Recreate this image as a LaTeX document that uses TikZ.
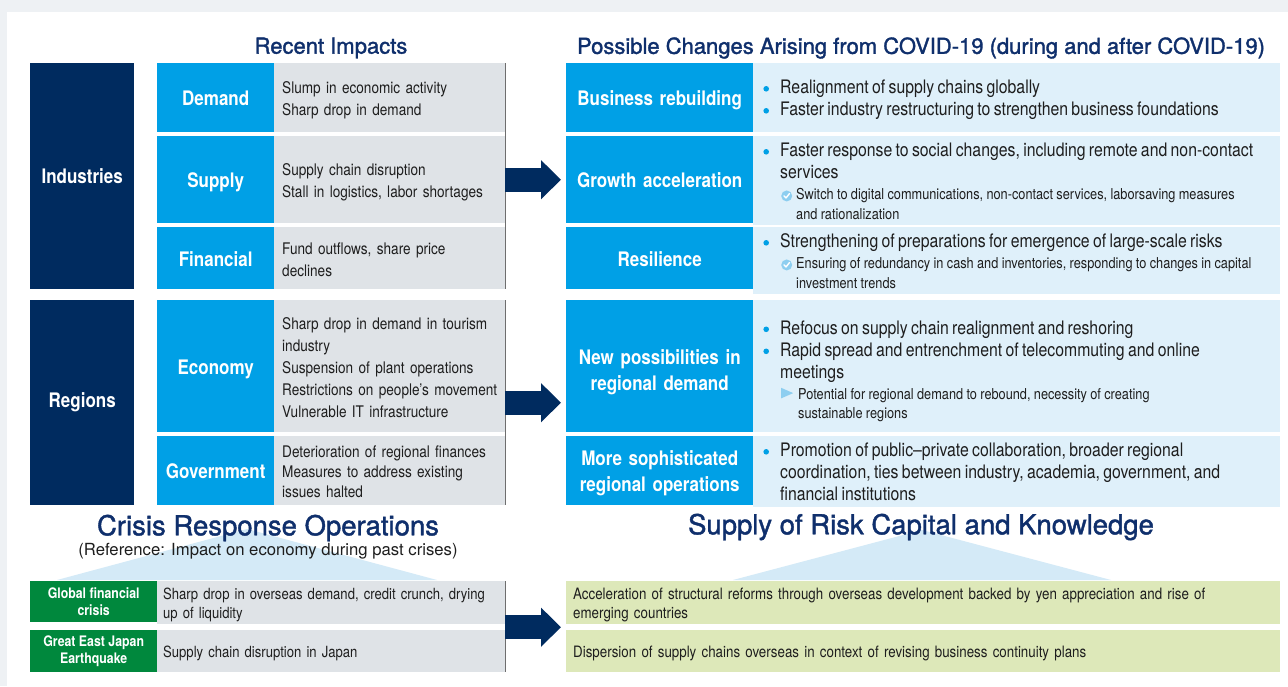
\documentclass[tikz,border=0pt]{standalone}
\usepackage{fontspec}
\setmainfont{TeX Gyre Heros}
\newfontfamily\cond{TeX Gyre Heros}[FakeStretch=0.85]
\newfontfamily\ttlf{TeX Gyre Heros}[FakeBold=1.5]
\usetikzlibrary{arrows.meta,calc}
\hyphenpenalty=10000

\definecolor{navy}{HTML}{002B5F}
\definecolor{ttlblue}{HTML}{0F2F6C}
\definecolor{cyanA}{HTML}{00A0E6}
\definecolor{greyA}{HTML}{DFE3E7}
\definecolor{lineGrey}{HTML}{6E6E6E}
\definecolor{lightBlue}{HTML}{DFF0FA}
\definecolor{chkBlue}{HTML}{8DCEF0}
\definecolor{triBlue}{HTML}{D4EAF7}
\definecolor{greenA}{HTML}{00883D}
\definecolor{lightGreen}{HTML}{DDE8B9}
\definecolor{bgGrey}{HTML}{EEF1F4}
\definecolor{ink}{HTML}{1E1E1E}

% bullets and marks
\newcommand\bul{\makebox[18pt][l]{\tikz[x=1pt,y=1pt,baseline=-4.8pt]{\path (0,0); \fill[cyanA] (4,0) circle (2.8pt);}}}
\newcommand\chkmark{\tikz[x=1pt,y=1pt,baseline=-3.9pt]{\fill[chkBlue] (5.5,0) circle (5.5pt);
  \draw[white,line width=1.4pt,line cap=round,line join=round] (2.8,0.2) -- (4.8,-2) -- (8.3,2.4);}}
\newcommand\trimark{\tikz[x=1pt,y=1pt,baseline=-1pt]{\fill[chkBlue] (0,0) -- (0,10.5) -- (12,5.25) -- cycle;}}
\newcommand\itm[1]{{\fontsize{18.6}{22}\selectfont\bul\strut#1\par}}
\newcommand\itmc[1]{{\fontsize{18.6}{22}\selectfont\hspace*{18pt}\strut#1\par}}
\newcommand\chkl[1]{{\fontsize{15}{19.5}\selectfont\hspace*{19pt}\makebox[15pt][l]{\chkmark}\strut#1\par}}
\newcommand\chkc[1]{{\fontsize{15}{19.5}\selectfont\hspace*{34pt}\strut#1\par}}
\newcommand\tril[1]{{\fontsize{15}{19.5}\selectfont\hspace*{19pt}\makebox[17pt][l]{\trimark}\strut#1\par}}
\newcommand\tric[1]{{\fontsize{15}{19.5}\selectfont\hspace*{36pt}\strut#1\par}}

\begin{document}
\begin{tikzpicture}[x=1pt,y=-1pt,
  grp/.style={anchor=north west, fill=navy, text=white, inner sep=0pt, minimum width=104pt,
    font=\cond\bfseries\fontsize{20}{24}\selectfont},
  hd/.style={anchor=north west, fill=cyanA, text=white, inner sep=0pt, minimum width=117pt,
    align=center, font=\cond\bfseries\fontsize{20}{26}\selectfont,
    execute at begin node={\rule{0pt}{\dimexpr.7\baselineskip+6pt\relax}},
    execute at end node=\strut},
  hdr/.style={hd, minimum width=187pt, text width=187pt},
  cell/.style={anchor=north west, fill=greyA, text=ink, text width=215pt, inner xsep=8pt,
    inner ysep=0pt, align=left, font=\cond\fontsize{16}{22}\selectfont,
    execute at begin node={\rule{0pt}{\dimexpr.7\baselineskip+5pt\relax}},
    execute at end node=\strut},
  chg/.style={anchor=north west, fill=lightBlue, text=ink, text width=509pt, inner xsep=9pt,
    inner ysep=0pt, align=left, font=\cond, execute at begin node={\rule{0pt}{20.4pt}}},
  gh/.style={anchor=north west, fill=greenA, text=white, inner sep=0pt, minimum width=127pt,
    align=center, font=\cond\bfseries\fontsize{14.5}{17}\selectfont},
  gc/.style={cell, text width=336pt, inner xsep=6pt, font=\cond\fontsize{15.4}{19}\selectfont},
  lg/.style={cell, fill=lightGreen, text width=700pt, inner xsep=7pt,
    font=\cond\fontsize{15.7}{19}\selectfont},
  ttl/.style={text=ttlblue, inner sep=0pt, font=\ttlf\fontsize{22}{26}\selectfont},
  bigttl/.style={text=ttlblue, inner sep=0pt, font=\ttlf\fontsize{27.5}{32}\selectfont},
  sep/.style={draw=lineGrey, line width=1.8pt},
  fat/.style={draw=navy, line width=24pt, -{Triangle[length=20pt,width=38pt]}, shorten >=5pt}]

\useasboundingbox (0,0) rectangle (1288,686);
\fill[bgGrey] (0,0) rectangle (1288,686);
\fill[white] (7,12) rectangle (1288,686);

% Titles
 \node[ttl] (ttlImp) at (331,48) {Recent Impacts};
 \node[ttl] (ttlChg) at (921,48) {Possible Changes Arising from COVID-19 (during and after COVID-19)};

% Industries
 \node[grp, minimum height=226pt] (ind) at (30,63) {Industries};
 \node[hd, minimum height=69pt] (dem) at (157,63) {Demand};
 \node[cell, minimum height=69pt] (demT) at (274,63) {Slump in economic activity\\Sharp drop in demand};
 \node[hd, minimum height=87pt] (sup) at (157,136) {Supply};
 \node[cell, minimum height=87pt] (supT) at (274,136) {Supply chain disruption\\Stall in logistics, labor shortages};
 \node[hd, minimum height=62pt] (fin) at (157,227) {Financial};
 \node[cell, minimum height=62pt] (finT) at (274,227) {Fund outflows, share price\\declines};

% Regions
 \node[grp, minimum height=205pt] (reg) at (30,300) {Regions};
 \node[hd, minimum height=132pt] (eco) at (157,300) {Economy};
 \node[cell, minimum height=132pt] (ecoT) at (274,300) {Sharp drop in demand in tourism\\industry\\Suspension of plant operations\\Restrictions on people’s movement\\Vulnerable IT infrastructure};
 \node[hd, minimum height=69pt] (gov) at (157,436) {Government};
 \node[cell, minimum height=69pt, font=\cond\fontsize{16}{20}\selectfont] (govT) at (274,436) {Deterioration of regional finances\\Measures to address existing\\issues halted};

 \draw[sep] (demT.north east) -- (finT.south east);
 \draw[sep] (ecoT.north east) -- (govT.south east);

% Possible changes
 \node[hdr, minimum height=69pt] (bus) at (566,63) {Business rebuilding};
 \node[chg, minimum height=69pt] (busT) at (753,63) {\itm{Realignment of supply chains globally}\itm{Faster industry restructuring to strengthen business foundations}};
 \node[hdr, minimum height=87pt] (grw) at (566,136) {Growth acceleration};
 \node[chg, minimum height=87pt] (grwT) at (753,136) {\itm{Faster response to social changes, including remote and non-contact}\itmc{services}\chkl{Switch to digital communications, non-contact services, laborsaving measures}\chkc{and rationalization}};
 \node[hdr, minimum height=62pt] (res) at (566,227) {Resilience};
 \node[chg, minimum height=62pt] (resT) at (753,227) {\itm{Strengthening of preparations for emergence of large-scale risks}\chkl{Ensuring of redundancy in cash and inventories, responding to changes in capital}\chkc{investment trends}};
 \node[hdr, minimum height=132pt, execute at begin node={\rule{0pt}{\dimexpr.7\baselineskip+12pt\relax}}] (nwp) at (566,300) {New possibilities in\\regional demand};
 \node[chg, minimum height=132pt, execute at begin node={\rule{0pt}{26.4pt}}] (nwpT) at (753,300) {\itm{Refocus on supply chain realignment and reshoring}\itm{Rapid spread and entrenchment of telecommuting and online}\itmc{meetings}\tril{Potential for regional demand to rebound, necessity of creating}\tric{sustainable regions}};
 \node[hdr, minimum height=69pt] (soph) at (566,436) {More sophisticated\\regional operations};
 \node[chg, minimum height=69pt] (sophT) at (753,436) {\itm{Promotion of public–private collaboration, broader regional}\itmc{coordination, ties between industry, academia, government, and}\itmc{financial institutions}};

% Past crises
 \fill[triBlue] (57,580) -- (247,529) -- (437,580) -- cycle;
 \fill[triBlue] (733,580) -- (922,530) -- (1111,580) -- cycle;
 \node[bigttl] (ttlCr) at (268,528) {Crisis Response Operations};
 \node[text=ink, inner sep=0pt, font=\fontsize{16.7}{20}\selectfont] (ttlRef) at (268,551) {(Reference: Impact on economy during past crises)};
 \node[bigttl] (ttlSup) at (921,527) {Supply of Risk Capital and Knowledge};

 \node[gh, minimum height=41pt] (gfc) at (30,581) {Global financial\\crisis};
 \node[gc, minimum height=41pt] (gfcT) at (157,581) {Sharp drop in overseas demand, credit crunch, drying\\up of liquidity};
 \node[gh, minimum height=42pt] (gej) at (30,630) {Great East Japan\\Earthquake};
 \node[gc, minimum height=42pt] (gejT) at (157,630) {Supply chain disruption in Japan};
 \node[lg, minimum height=41pt] (acc) at (566,581) {Acceleration of structural reforms through overseas development backed by yen appreciation and rise of\\emerging countries};
 \node[lg, minimum height=42pt] (dsp) at (566,630) {Dispersion of supply chains overseas in context of revising business continuity plans};

 \draw[sep] (gfcT.north east) -- (gejT.south east);

% Arrows
 \draw[fat] (supT.east) -- (grw.west);
 \draw[fat] (reg.center -| govT.east) -- (reg.center -| nwp.west);
 \draw[fat] ($(gfcT.south east)!.5!(gejT.north east)$) -- ($(acc.south west)!.5!(dsp.north west)$);

\end{tikzpicture}
\end{document}
